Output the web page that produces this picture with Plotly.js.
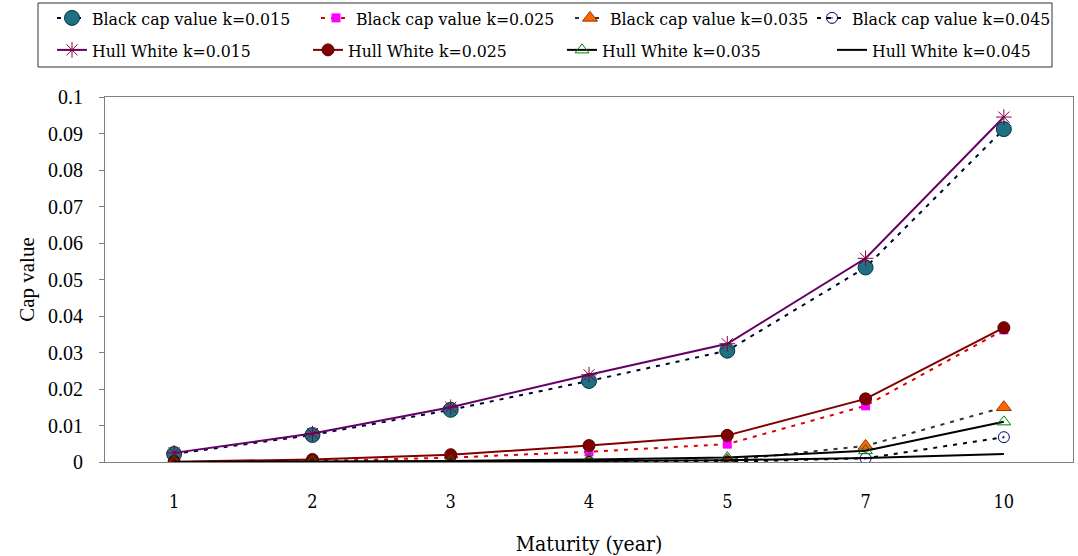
<!DOCTYPE html>
<html>
<head>
<meta charset="utf-8">
<script src="https://cdn.plot.ly/plotly-3.0.1.min.js"></script>
<style>html,body{margin:0;padding:0;background:#fff}#chart{width:1078px;height:556px}</style>
</head>
<body>
<div id="chart"></div>
<script>
const categories = ['1', '2', '3', '4', '5', '7', '10'];
const black015 = [0.0022, 0.0074, 0.0143, 0.0222, 0.0305, 0.0533, 0.0912];
const black025 = [0.0000, 0.0002, 0.0012, 0.0028, 0.0049, 0.0154, 0.0362];
const black035 = [0.0000, 0.0000, 0.0000, 0.0001, 0.0005, 0.0044, 0.0150];
const black045 = [0.0000, 0.0000, 0.0000, 0.0000, 0.0001, 0.0010, 0.0068];
const hw015 = [0.0025, 0.0078, 0.0150, 0.0239, 0.0324, 0.0558, 0.0945];
const hw025 = [0.0001, 0.0007, 0.0020, 0.0045, 0.0073, 0.0173, 0.0368];
const hw035 = [0.0000, 0.0001, 0.0003, 0.0007, 0.0012, 0.0031, 0.0110];
const hw045 = [0.0000, 0.0000, 0.0001, 0.0003, 0.0005, 0.0011, 0.0022];
const seriesNames = [
  'Black cap value k=0.015', 'Black cap value k=0.025', 'Black cap value k=0.035', 'Black cap value k=0.045',
  'Hull White k=0.015', 'Hull White k=0.025', 'Hull White k=0.035', 'Hull White k=0.045'
];

const dashPat = '4px,6px';
const traces = [
  {y: black015, line: {color: '#000033', width: 2, dash: dashPat},
   marker: {symbol: 'circle', size: 15, color: '#1f7082', line: {color: '#0b3340', width: 1}}},
  {y: black025, line: {color: '#dd0000', width: 2, dash: dashPat},
   marker: {symbol: 'square', size: 9, color: '#ff00ff', line: {width: 0}}},
  {y: black035, line: {color: '#333333', width: 2, dash: dashPat},
   marker: {symbol: 'triangle-up', size: 13, color: '#ff6600', line: {color: '#993300', width: 1}}},
  {y: black045, line: {color: '#000000', width: 2, dash: dashPat},
   marker: {symbol: 'circle-open-dot', size: 11, color: '#000080', line: {color: '#000080', width: 1}}},
  {y: hw015, line: {color: '#660066', width: 2},
   marker: {symbol: 'asterisk-open', size: 13, color: '#800040', line: {color: '#800040', width: 1}}},
  {y: hw025, line: {color: '#800000', width: 2},
   marker: {symbol: 'circle', size: 12, color: '#800000', line: {color: '#500000', width: 1}}},
  {y: hw035, line: {color: '#000000', width: 2},
   marker: {symbol: 'triangle-up-open', size: 12, color: '#008000', line: {color: '#008000', width: 1}}},
  {y: hw045, line: {color: '#000000', width: 2}, mode: 'lines'}
].map((t, i) => Object.assign({
  type: 'scatter', mode: 'lines+markers', x: categories,
  name: seriesNames[i], legend: i === 0 ? 'legend' : 'legend' + (i + 1)
}, t));

// legend entry anchor positions (px in the page), row 1 = Black, row 2 = Hull White
const legendX = [52, 316, 570, 812, 52, 308, 562, 832];
const legendY = [18, 18, 18, 18, 50, 50, 50, 50];

const layout = {
  width: 1078, height: 556,
  paper_bgcolor: '#ffffff', plot_bgcolor: '#ffffff',
  margin: {l: 105, r: 5, t: 97, b: 94},
  font: {family: 'Liberation Serif, serif', color: '#000000'},
  showlegend: true,
  shapes: [{
    type: 'rect', xref: 'paper', yref: 'paper',
    x0: (38 - 105) / 968, x1: (1052 - 105) / 968,
    y0: (462 - 67) / 365, y1: (462 - 3) / 365,
    line: {color: '#333333', width: 1}, fillcolor: 'rgba(0,0,0,0)', layer: 'above'
  }],
  xaxis: {
    type: 'category', categoryorder: 'array', categoryarray: categories,
    range: [-0.5, 6.5],
    showline: true, linecolor: '#808080', linewidth: 1, mirror: true,
    showgrid: false, zeroline: false,
    ticks: '',
    ticklabelstandoff: 23,
    tickfont: {family: 'DejaVu Serif Condensed, Liberation Serif, serif', size: 18},
    title: {text: 'Maturity (year)', standoff: 26,
            font: {family: 'DejaVu Serif Condensed, Liberation Serif, serif', size: 21}}
  },
  yaxis: {
    range: [0, 0.1], dtick: 0.01, tick0: 0,
    showline: true, linecolor: '#808080', linewidth: 1, mirror: true,
    showgrid: false, zeroline: false,
    ticks: 'outside', ticklen: 5, tickcolor: '#808080',
    ticklabelstandoff: 12,
    tickfont: {family: 'Liberation Serif, serif', size: 20},
    title: {text: 'Cap value', standoff: 7, font: {family: 'Liberation Serif, serif', size: 21}}
  }
};

legendX.forEach((lx, i) => {
  layout[i === 0 ? 'legend' : 'legend' + (i + 1)] = {
    orientation: 'h', xref: 'container', yref: 'container',
    x: lx / 1078, xanchor: 'left', y: 1 - legendY[i] / 556, yanchor: 'middle',
    bgcolor: 'rgba(0,0,0,0)', borderwidth: 0,
    font: {family: 'DejaVu Serif Condensed, DejaVu Serif, serif', size: 17.5, color: '#000000'}
  };
});

Plotly.newPlot('chart', traces, layout, {displayModeBar: false, staticPlot: true});
</script>
</body>
</html>
